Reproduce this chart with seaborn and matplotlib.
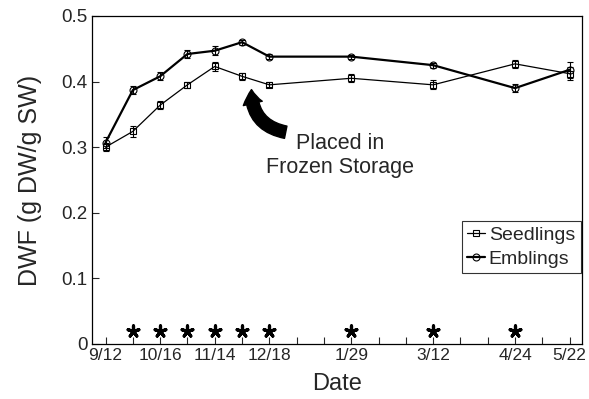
import numpy as np
import pandas as pd
import seaborn as sns
import matplotlib.pyplot as plt
from matplotlib.patches import FancyArrowPatch

# x positions in tick units (one tick ~ 2.5 weeks)
tick_pos = list(range(18))
tick_labels = {0: '9/12', 2: '10/16', 4: '11/14', 6: '12/18',
               9: '1/29', 12: '3/12', 15: '4/24', 17: '5/22'}

sample_x = [0, 1, 2, 3, 4, 5, 6, 9, 12, 15, 17]
seedlings = [0.300, 0.324, 0.364, 0.395, 0.423, 0.408, 0.395, 0.405, 0.395, 0.427, 0.412]
seedlings_err = [0.006, 0.009, 0.006, 0.005, 0.007, 0.005, 0.004, 0.006, 0.007, 0.006, 0.010]
emblings = [0.307, 0.387, 0.408, 0.442, 0.447, 0.460, 0.438, 0.438, 0.425, 0.390, 0.418]
emblings_err = [0.008, 0.006, 0.006, 0.006, 0.007, 0.004, 0.004, 0.003, 0.004, 0.006, 0.012]

star_x = [1, 2, 3, 4, 5, 6, 9, 12, 15]
star_y = [0.02] * len(star_x)

sns.set_style('ticks')
plt.rcParams['font.family'] = ['Liberation Sans', 'DejaVu Sans']

fig = plt.figure(figsize=(5.89, 3.99), dpi=100)
ax = fig.add_axes([0.156, 0.138, 0.832, 0.822])

df = pd.DataFrame({'x': sample_x, 'Seedlings': seedlings, 'Emblings': emblings})

ax.errorbar(sample_x, seedlings, yerr=seedlings_err, fmt='none', ecolor='black',
            elinewidth=0.8, capsize=2.5, capthick=0.8)
ax.errorbar(sample_x, emblings, yerr=emblings_err, fmt='none', ecolor='black',
            elinewidth=0.8, capsize=2.5, capthick=0.8)
sns.lineplot(data=df, x='x', y='Seedlings', ax=ax, color='black', linewidth=0.9,
             marker='s', markersize=5, markerfacecolor='none', markeredgecolor='black',
             markeredgewidth=0.8, label='Seedlings')
sns.lineplot(data=df, x='x', y='Emblings', ax=ax, color='black', linewidth=1.6,
             marker='o', markersize=5, markerfacecolor='none', markeredgecolor='black',
             markeredgewidth=0.8, label='Emblings')

sns.scatterplot(x=star_x, y=star_y, ax=ax, marker=(5, 2, 0), s=65, color='black',
                linewidth=2.3, legend=False)

# arrow + note
arr = FancyArrowPatch((6.7, 0.322), (5.35, 0.392), connectionstyle='arc3,rad=-0.45',
                      arrowstyle='simple,head_width=14,head_length=10,tail_width=9',
                      color='black', mutation_scale=1)
ax.add_patch(arr)
ax.text(8.6, 0.287, 'Placed in\nFrozen Storage', ha='center', va='center',
        fontsize=15.5, linespacing=1.15)

ax.set_xlim(-0.5, 17.45)
ax.set_ylim(0, 0.5)
ax.set_xticks(tick_pos)
ax.set_xticklabels([tick_labels.get(t, '') for t in tick_pos], fontsize=12.5)
ax.set_yticks([0, 0.1, 0.2, 0.3, 0.4, 0.5])
ax.set_yticklabels(['0', '0.1', '0.2', '0.3', '0.4', '0.5'], fontsize=13.5)
ax.tick_params(direction='in', length=5, width=0.8, pad=3)
ax.set_xlabel('Date', fontsize=17, labelpad=7)
ax.set_ylabel('DWF (g DW/g SW)', fontsize=18, labelpad=14)
for s in ax.spines.values():
    s.set_visible(True)
    s.set_linewidth(0.9)
    s.set_color('black')

leg = ax.legend(loc='lower right', bbox_to_anchor=(0.998, 0.215), fontsize=14,
                frameon=True, fancybox=False, edgecolor='black', handlelength=0.9,
                handletextpad=0.2, borderpad=0.3, labelspacing=0.3, borderaxespad=0)
leg.get_frame().set_linewidth(0.8)

fig.savefig('out.png', dpi=100)
